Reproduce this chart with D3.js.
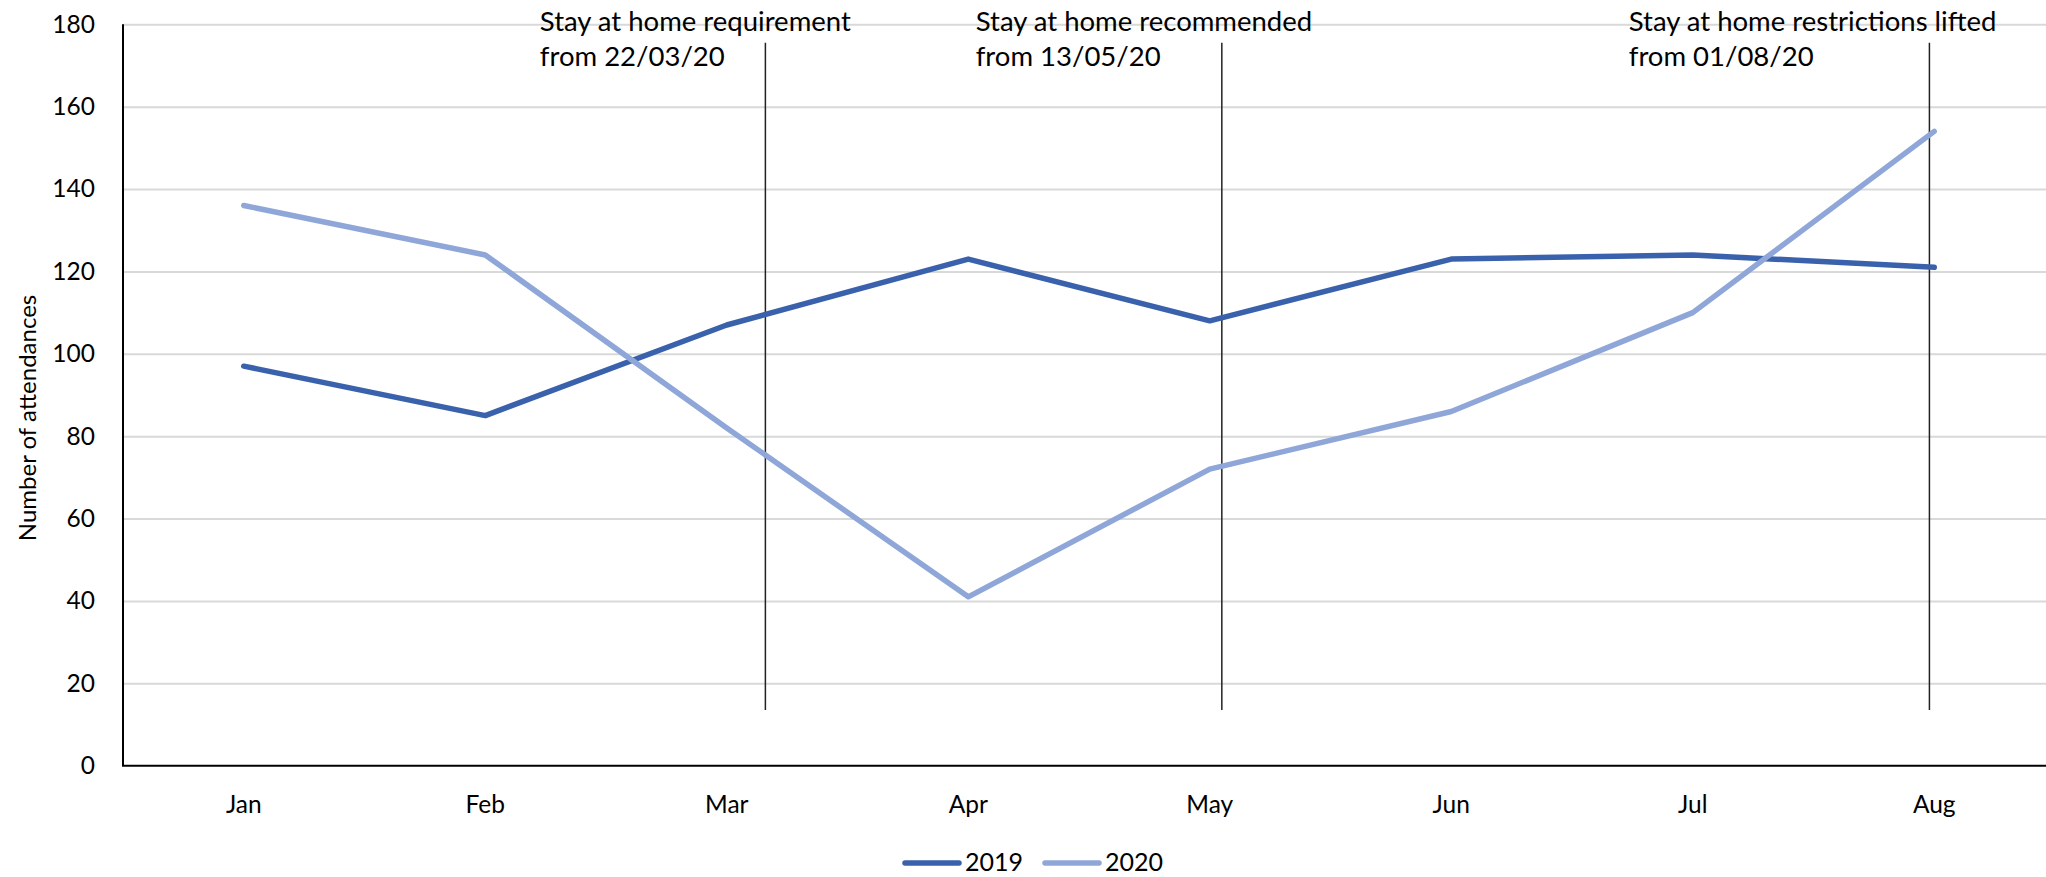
<!DOCTYPE html>
<html>
<head>
<meta charset="utf-8">
<script src="https://cdn.jsdelivr.net/npm/d3@7"></script>
<style>
  body { margin: 0; background: #fff; }
  text { font-family: Lato, "Open Sans", sans-serif; fill: #000; }
</style>
</head>
<body>
<script>
// data
const months = ["Jan", "Feb", "Mar", "Apr", "May", "Jun", "Jul", "Aug"];
const values2019 = [97, 85, 107, 123, 108, 123, 124, 121];
const values2020 = [136, 124, 82, 41, 72, 86, 110, 154];
const seriesNames = ["2019", "2020"];
const yTicks = [0, 20, 40, 60, 80, 100, 120, 140, 160, 180];

// annotation lines, positions in month units (0 = Jan)
const markerPos = [2.16, 4.05, 6.98];
const markerRange = [13.5, 175.5];
const noteLines = [
  ["Stay at home requirement", "from 22/03/20"],
  ["Stay at home recommended", "from 13/05/20"],
  ["Stay at home restrictions lifted", "from 01/08/20"],
];
const notePos = [1.226, 3.031, 5.735];

const SVG_DIM = { W: 2046, H: 877 };
const PLOT = { LEFT: 123, TOP: 24.3, BOTTOM: 765.7, STEP: 241.5 };
const COLORS = ["#3a62ac", "#8fa6d8"];

const svg = d3
  .select("body")
  .append("svg")
  .attr("width", SVG_DIM.W)
  .attr("height", SVG_DIM.H);

const x = d3
  .scaleBand()
  .domain(months)
  .range([PLOT.LEFT, PLOT.LEFT + PLOT.STEP * months.length]);

// same positions as the band centers, but continuous for the annotations
const xm = d3
  .scaleLinear()
  .domain([0, 1])
  .range([PLOT.LEFT + PLOT.STEP / 2, PLOT.LEFT + PLOT.STEP * 1.5]);

const y = d3.scaleLinear().domain([0, 180]).range([PLOT.BOTTOM, PLOT.TOP]);

// gridlines
svg
  .append("g")
  .attr("class", "grid")
  .attr("transform", `translate(${PLOT.LEFT},0)`)
  .call(d3.axisLeft(y).tickValues(yTicks.slice(1)).tickSize(-(SVG_DIM.W - PLOT.LEFT)).tickFormat(""))
  .call((g) => g.select(".domain").remove())
  .call((g) => g.selectAll("line").attr("stroke", "#d9d9d9").attr("stroke-width", 2));

// y tick labels
svg
  .append("g")
  .attr("transform", `translate(${PLOT.LEFT},0)`)
  .call(d3.axisLeft(y).tickValues(yTicks).tickSize(0).tickPadding(28))
  .call((g) => g.select(".domain").remove())
  .call((g) => g.selectAll("text").attr("font-size", 24.5).attr("font-family", "Lato"));

// x tick labels
svg
  .append("g")
  .attr("transform", `translate(0,${PLOT.BOTTOM})`)
  .call(d3.axisBottom(x).tickSize(0))
  .call((g) => g.select(".domain").remove())
  .call((g) =>
    g.selectAll("text").attr("dy", null).attr("y", 47).attr("font-size", 24.5).attr("font-family", "Lato")
  );

// axis lines
svg
  .append("line")
  .attr("x1", PLOT.LEFT)
  .attr("x2", PLOT.LEFT)
  .attr("y1", y(180))
  .attr("y2", y(0))
  .attr("stroke", "#000")
  .attr("stroke-width", 2);
svg
  .append("line")
  .attr("x1", PLOT.LEFT - 1)
  .attr("x2", SVG_DIM.W)
  .attr("y1", y(0))
  .attr("y2", y(0))
  .attr("stroke", "#000")
  .attr("stroke-width", 2);

// y axis title
svg
  .append("text")
  .text("Number of attendances")
  .attr("transform", `translate(36, 418) rotate(-90)`)
  .attr("text-anchor", "middle")
  .attr("font-size", 24);

// annotation lines
svg
  .selectAll(".marker")
  .data(markerPos)
  .enter()
  .append("line")
  .attr("class", "marker")
  .attr("x1", (d) => xm(d))
  .attr("x2", (d) => xm(d))
  .attr("y1", y(markerRange[1]))
  .attr("y2", y(markerRange[0]))
  .attr("stroke", "#222")
  .attr("stroke-width", 1.5);

// annotation text
const notes = svg
  .selectAll(".note")
  .data(noteLines)
  .enter()
  .append("text")
  .attr("class", "note")
  .attr("font-size", 27.5);
notes
  .selectAll("tspan")
  .data((d, i) => d.map((t) => ({ t, i })))
  .enter()
  .append("tspan")
  .attr("x", (d) => xm(notePos[d.i]))
  .attr("y", (d, j) => 31 + j * 35)
  .text((d) => d.t);

// the two series
const line = d3
  .line()
  .x((d, i) => x(months[i]) + x.bandwidth() / 2)
  .y((d) => y(d));

[values2019, values2020].forEach((vals, i) => {
  svg
    .append("path")
    .datum(vals)
    .attr("d", line)
    .attr("fill", "none")
    .attr("stroke", COLORS[i])
    .attr("stroke-width", 5.5)
    .attr("stroke-linecap", "round")
    .attr("stroke-linejoin", "round");
});

// legend
const legend = svg.append("g").attr("class", "legend");
const legendX = [905, 1045];
seriesNames.forEach((name, i) => {
  legend
    .append("line")
    .attr("x1", legendX[i])
    .attr("x2", legendX[i] + 54)
    .attr("y1", 863)
    .attr("y2", 863)
    .attr("stroke", COLORS[i])
    .attr("stroke-width", 5.5)
    .attr("stroke-linecap", "round");
  legend
    .append("text")
    .text(name)
    .attr("x", legendX[i] + 60)
    .attr("y", 871)
    .attr("font-size", 25);
});
</script>
</body>
</html>
